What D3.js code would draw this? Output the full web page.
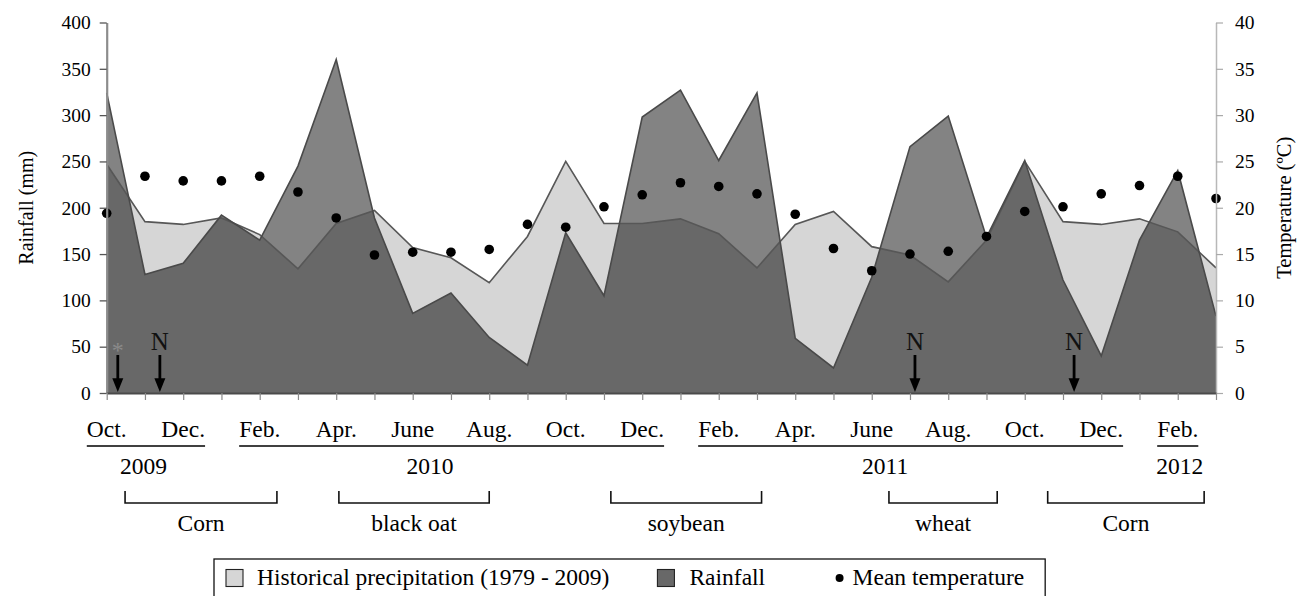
<!DOCTYPE html>
<html><head><meta charset="utf-8">
<script src="https://cdn.jsdelivr.net/npm/d3@7"></script>
<style>
body{margin:0;background:#fff}
</style>
</head><body>
<svg id="c" width="1306" height="596"></svg>
<script>
// ---------- data ----------
const months = ["Oct 2009","Nov 2009","Dec 2009","Jan 2010","Feb 2010","Mar 2010","Apr 2010","May 2010","Jun 2010","Jul 2010","Aug 2010","Sep 2010",
  "Oct 2010","Nov 2010","Dec 2010","Jan 2011","Feb 2011","Mar 2011","Apr 2011","May 2011","Jun 2011","Jul 2011","Aug 2011","Sep 2011",
  "Oct 2011","Nov 2011","Dec 2011","Jan 2012","Feb 2012","Mar 2012"];
const historical = [247,185,182,189,171,134,183,197,157,146,119,169,250,183,183,188,172,135,182,196,158,149,120,165,250,185,182,188,174,135];
const rainfall   = [324,128,140,192,165,245,360,189,86,108,60,30,173,105,298,327,251,324,59,27,125,266,299,168,251,122,40,165,240,83];
const temperature= [19.4,23.4,22.9,22.9,23.4,21.7,18.9,14.9,15.2,15.2,15.5,18.2,17.9,20.1,21.4,22.7,22.3,21.5,19.3,15.6,13.2,15.0,15.3,16.9,19.6,20.1,21.5,22.4,23.4,21.0];
const rainTicks = [0,50,100,150,200,250,300,350,400];
const tempTicks = [0,5,10,15,20,25,30,35,40];
const monthLabels = ["Oct.","Dec.","Feb.","Apr.","June","Aug.","Oct.","Dec.","Feb.","Apr.","June","Aug.","Oct.","Dec.","Feb."];
const years = ["2009","2010","2011","2012"];
const yearLabelSpans = [[0,1],[2,7],[8,13],[14,14]];   // which month labels each year underlines
const yearMonthPos = [0.96,8.45,20.35,28.05];          // month index where the year label sits
const crops = ["Corn","black oat","soybean","wheat","Corn"];
const cropSpans = [[0.48,4.45],[6.07,10.0],[13.18,17.12],[20.45,23.28],[24.6,28.69]];
const appMonths = [0.29,1.39,21.13,25.29];
const appLabels = ["*","N","N","N"];
const legendLabels = ["Historical precipitation (1979 - 2009)","Rainfall","Mean temperature"];

// ---------- font selection (serif, Times-like metrics) ----------
const cv = document.createElement("canvas").getContext("2d");
function w(font, s){ cv.font = font; return cv.measureText(s).width; }
const probe = "Historical precipitation (1979 - 2009)";
const candidates = ['"Liberation Serif"','"Tinos"','"Times New Roman"','"Nimbus Roman"','"DejaVu Serif"','"Noto Serif"'];
let FAM = 'serif';
for (const f of candidates) {
  if (Math.abs(w(`100px ${f}, monospace`, probe) - w("100px monospace", probe)) > 1) { FAM = f + ", serif"; break; }
}
const emW = w(`100px ${FAM}`, probe) / 100;
const fit = 15.0 / emW;
const px = s => (s * fit).toFixed(2) + "px";

// ---------- chart ----------
const svg = d3.select("#c").style("font-family", FAM);
const idx = d3.range(months.length);
const x  = d3.scaleLinear().domain([0, months.length-1]).range([106.7, 1216]);
const yR = d3.scaleLinear().domain([0,400]).range([393, 22.5]);
const yT = d3.scaleLinear().domain([0,40]).range([393, 22.5]);

const C_HIST = "#d6d6d6", C_RAIN = "#838383", C_BOTH = "#686868", C_LINE = "#4a4a4a";

const areaH = d3.area().x(i=>x(i)).y0(yR(0)).y1(i=>yR(historical[i]));
const areaR = d3.area().x(i=>x(i)).y0(yR(0)).y1(i=>yR(rainfall[i]));
const lineH = d3.line().x(i=>x(i)).y(i=>yR(historical[i]));
const lineR = d3.line().x(i=>x(i)).y(i=>yR(rainfall[i]));

svg.append("defs").append("clipPath").attr("id","hclip")
  .append("path").attr("d", areaH(idx));

svg.append("path").attr("d", areaH(idx)).attr("fill", C_HIST);
svg.append("path").attr("d", areaR(idx)).attr("fill", C_RAIN);
svg.append("path").attr("d", areaR(idx)).attr("fill", C_BOTH).attr("clip-path","url(#hclip)");
svg.append("path").attr("d", lineH(idx)).attr("fill","none").attr("stroke","#575757").attr("stroke-width",1.6);
svg.append("path").attr("d", lineR(idx)).attr("fill","none").attr("stroke",C_LINE).attr("stroke-width",1.6);

// temperature dots
svg.append("g").selectAll("circle").data(idx).join("circle")
  .attr("cx", i=>x(i)).attr("cy", i=>yT(temperature[i])).attr("r",4.8).attr("fill","#000");

// application arrows
const app = svg.append("g");
appMonths.forEach((m,k)=>{
  const ax = x(m);
  app.append("line").attr("x1",ax).attr("x2",ax).attr("y1",yR(41)).attr("y2",yR(14))
    .attr("stroke","#000").attr("stroke-width",2.8);
  app.append("path").attr("d",`M${ax-5.5},${yR(16)}L${ax+5.5},${yR(16)}L${ax},${yR(0)-1}Z`).attr("fill","#000");
  if (appLabels[k]==="*") {
    app.append("text").attr("x",ax).attr("y",yR(47)+9).attr("text-anchor","middle")
      .style("font-size",px(24)).style("fill","#8a8a8a").text("*");
  } else {
    app.append("text").attr("x",ax).attr("y",yR(46)).attr("text-anchor","middle")
      .style("font-size",px(25)).style("fill","#111").text(appLabels[k]);
  }
});

// axes
function styleTicks(g){
  g.attr("font-family", null).attr("font-size", null);
  g.selectAll(".tick text").style("font-size",px(19.5)).style("font-family",FAM).attr("fill","#000");
}
const gL = svg.append("g").attr("transform",`translate(${x(0)},0)`)
  .call(d3.axisLeft(yR).tickValues(rainTicks).tickSize(7).tickPadding(9).tickSizeOuter(0));
gL.select(".domain").attr("stroke","#8c8c8c").attr("stroke-width",2.2);
gL.selectAll(".tick line").attr("stroke","#555").attr("stroke-width",1.3);
styleTicks(gL);

const gR = svg.append("g").attr("transform",`translate(${x(months.length-1)},0)`)
  .call(d3.axisRight(yT).tickValues(tempTicks).tickSize(7).tickPadding(12).tickSizeOuter(0));
gR.select(".domain").attr("stroke","#b8b8b8").attr("stroke-width",1.5);
gR.selectAll(".tick line").attr("stroke","#aaa").attr("stroke-width",1.2);
styleTicks(gR);

const gB = svg.append("g").attr("transform",`translate(0,${yR(0)})`)
  .call(d3.axisBottom(x).tickValues(idx).tickSize(7).tickFormat("").tickSizeOuter(0));
gB.select(".domain").attr("stroke","#4a4a4a").attr("stroke-width",2.2);
gB.selectAll(".tick line").attr("stroke","#8a8a8a").attr("stroke-width",1.2);

// axis titles
svg.append("text").attr("transform",`translate(33,${(yR(0)+yR(400))/2}) rotate(-90)`)
  .attr("text-anchor","middle").style("font-size",px(20)).text("Rainfall (mm)");
svg.append("text").attr("transform",`translate(1291,${(yR(0)+yR(400))/2}) rotate(-90)`)
  .attr("text-anchor","middle").style("font-size",px(20.5)).text("Temperature (ºC)");

// month labels
const fs = px(23.5);
const ml = svg.append("g").selectAll("text").data(monthLabels).join("text")
  .attr("x",(d,k)=>x(k*2)).attr("y",437).attr("text-anchor","middle").style("font-size",fs).text(d=>d);
const mlNodes = ml.nodes();

// year underlines + labels
years.forEach((yv,k)=>{
  const a = mlNodes[yearLabelSpans[k][0]].getBBox(), b = mlNodes[yearLabelSpans[k][1]].getBBox();
  svg.append("line").attr("x1",a.x).attr("x2",b.x+b.width).attr("y1",446).attr("y2",446)
    .attr("stroke","#000").attr("stroke-width",1.6);
  svg.append("text").attr("x",x(yearMonthPos[k])).attr("y",474).attr("text-anchor","middle")
    .style("font-size",fs).text(yv);
});

// crop brackets
crops.forEach((c,k)=>{
  const x0 = x(cropSpans[k][0]), x1 = x(cropSpans[k][1]);
  svg.append("path").attr("d",`M${x0},491V503H${x1}V491`).attr("fill","none")
    .attr("stroke","#111").attr("stroke-width",1.6);
  svg.append("text").attr("x",(x0+x1)/2).attr("y",531).attr("text-anchor","middle")
    .style("font-size",fs).text(c);
});

// legend
const lg = svg.append("g");
const box = lg.append("rect").attr("x",214).attr("y",559).attr("height",38).attr("fill","#fff")
  .attr("stroke","#111").attr("stroke-width",1.3);
lg.append("rect").attr("x",226).attr("y",569.5).attr("width",17).attr("height",17)
  .attr("fill",C_HIST).attr("stroke","#222").attr("stroke-width",1.1);
const t1 = lg.append("text").attr("x",257).attr("y",585).style("font-size",fs).text(legendLabels[0]);
const e1 = t1.node().getBBox();
const sq2x = e1.x + e1.width + 48;
lg.append("rect").attr("x",sq2x).attr("y",569.5).attr("width",17).attr("height",17)
  .attr("fill",C_BOTH).attr("stroke","#222").attr("stroke-width",1.1);
const t2 = lg.append("text").attr("x",sq2x+32).attr("y",585).style("font-size",fs).text(legendLabels[1]);
const e2 = t2.node().getBBox();
const dx = e2.x + e2.width + 74;
lg.append("circle").attr("cx",dx).attr("cy",578).attr("r",4).attr("fill","#000");
const t3 = lg.append("text").attr("x",dx+13).attr("y",585).style("font-size",fs).text(legendLabels[2]);
const e3 = t3.node().getBBox();
box.attr("width", e3.x + e3.width + 21 - 214);
</script>
</body></html>
